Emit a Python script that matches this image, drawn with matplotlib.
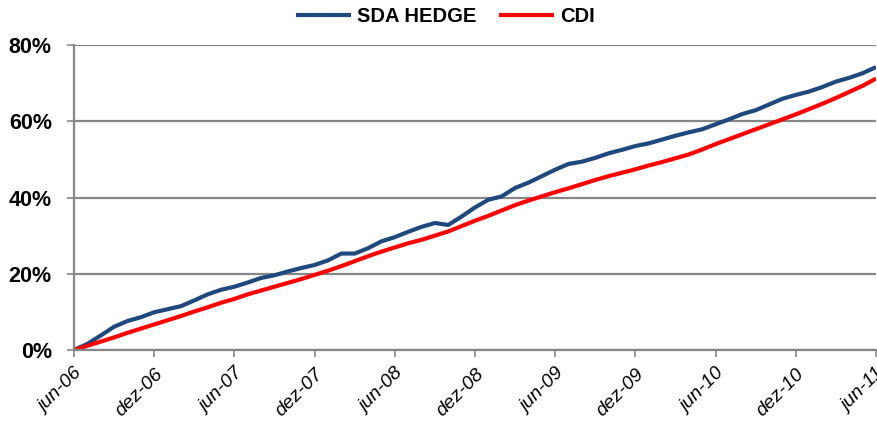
import matplotlib
matplotlib.use("Agg")
import matplotlib.pyplot as plt
from matplotlib.ticker import FuncFormatter
from matplotlib.transforms import ScaledTranslation

# monthly points, jun-06 .. jun-11 (values in %)
MONTHS = list(range(61))
SDA_HEDGE = [
    0.0, 1.6, 3.8, 6.1, 7.6, 8.6, 9.9, 10.7, 11.5, 13.0,
    14.6, 15.8, 16.6, 17.7, 18.9, 19.6, 20.6, 21.5, 22.3, 23.5,
    25.3, 25.3, 26.7, 28.5, 29.6, 31.0, 32.3, 33.3, 32.8, 35.0,
    37.4, 39.4, 40.3, 42.5, 43.9, 45.6, 47.3, 48.8, 49.4, 50.4,
    51.6, 52.5, 53.5, 54.2, 55.2, 56.2, 57.1, 57.9, 59.2, 60.5,
    61.9, 62.9, 64.4, 65.9, 66.9, 67.8, 69.0, 70.4, 71.4, 72.6,
    74.2,
]
CDI = [
    0.0, 1.1, 2.2, 3.3, 4.5, 5.6, 6.7, 7.8, 8.9, 10.1,
    11.2, 12.4, 13.4, 14.6, 15.6, 16.6, 17.6, 18.6, 19.7, 20.8,
    22.0, 23.3, 24.6, 25.8, 26.9, 28.0, 28.9, 30.0, 31.1, 32.5,
    33.9, 35.2, 36.6, 38.0, 39.2, 40.3, 41.4, 42.4, 43.5, 44.6,
    45.6, 46.5, 47.4, 48.4, 49.3, 50.3, 51.3, 52.6, 54.0, 55.3,
    56.6, 57.9, 59.2, 60.5, 61.8, 63.2, 64.6, 66.1, 67.7, 69.3,
    71.2,
]
TICK_MONTHS = list(range(0, 61, 6))
TICK_LABELS = ["jun-06", "dez-06", "jun-07", "dez-07", "jun-08", "dez-08",
               "jun-09", "dez-09", "jun-10", "dez-10", "jun-11"]
Y_TICKS = [0, 20, 40, 60, 80]

BLUE = "#1f497d"
RED = "#ff0000"
GREY = "#868686"

plt.rcParams["font.family"] = ["Liberation Sans", "DejaVu Sans"]

fig = plt.figure(figsize=(8.77, 4.25), dpi=100)
ax = fig.add_axes([74 / 877, 1 - 350 / 425, 802 / 877, 305 / 425])

ax.plot(MONTHS, SDA_HEDGE, color=BLUE, lw=3, label="SDA HEDGE", solid_capstyle="butt")
ax.plot(MONTHS, CDI, color=RED, lw=3, label="CDI", solid_capstyle="butt")

ax.set_xlim(0, 60)
ax.set_ylim(0, 80)
ax.set_yticks(Y_TICKS)
ax.yaxis.set_major_formatter(FuncFormatter(lambda v, _: f"{v:.0f}%"))
ax.set_xticks(TICK_MONTHS)
ax.set_xticklabels(TICK_LABELS, rotation=45, ha="right", va="top",
                   rotation_mode="anchor", fontsize=14, fontstyle="italic")
shift = ScaledTranslation(-3 / 100, 0, fig.dpi_scale_trans)
for lab in ax.get_xticklabels():
    lab.set_transform(lab.get_transform() + shift)
for lab in ax.get_yticklabels():
    lab.set_fontsize(15.5)
    lab.set_fontweight("bold")

ax.grid(axis="y", color=GREY, lw=1.6)
ax.set_axisbelow(True)
for side in ("top", "right"):
    ax.spines[side].set_visible(False)
for side in ("left", "bottom"):
    ax.spines[side].set_color(GREY)
    ax.spines[side].set_linewidth(1.6)
ax.tick_params(axis="both", colors=GREY, length=5, width=1.2, labelcolor="black")
ax.tick_params(axis="x", pad=6)
ax.tick_params(axis="y", pad=11)

leg = fig.legend(loc="center", bbox_to_anchor=(0.508, 1 - 17 / 425), ncol=2, frameon=False,
                 prop={"weight": "bold", "size": 14.5}, handlelength=2.75,
                 columnspacing=1.1, handletextpad=0.3)
for line in leg.get_lines():
    line.set_linewidth(3)

fig.savefig("out.png", dpi=100)
